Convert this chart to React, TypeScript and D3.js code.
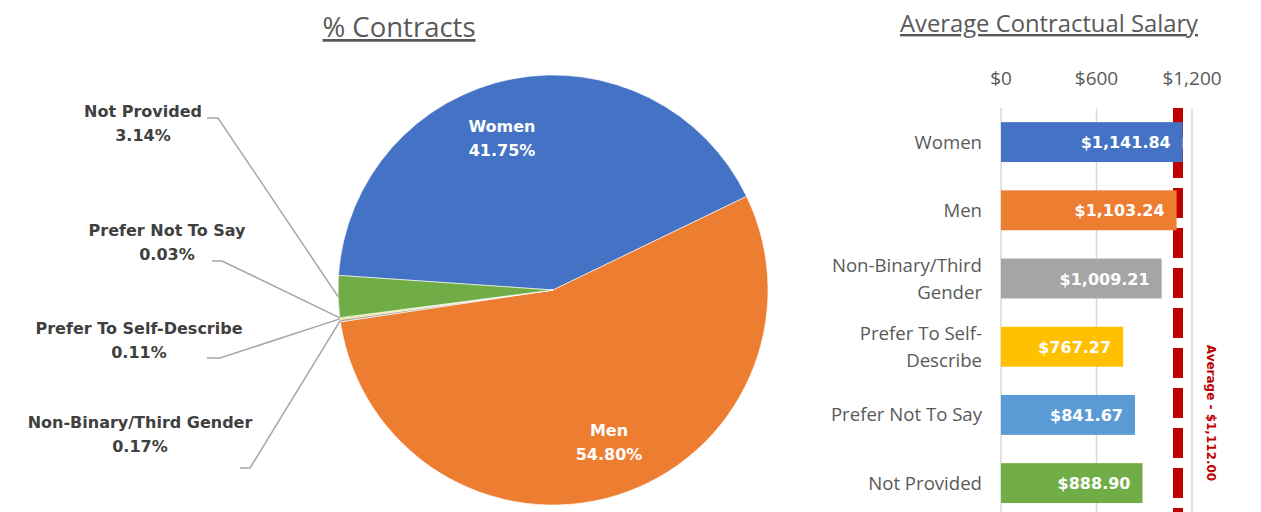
import React from "react";
import * as d3 from "d3";

const categories = ["Women", "Men", "Non-Binary/Third Gender", "Prefer To Self-Describe", "Prefer Not To Say", "Not Provided"];
const contractShare = [41.75, 54.8, 0.17, 0.11, 0.03, 3.14];
const avgSalary = [1141.84, 1103.24, 1009.21, 767.27, 841.67, 888.9];
const overallAverage = 1112.0;
const salaryTicks = [0, 600, 1200];
const colors = ["#4472C4", "#ED7D31", "#A5A5A5", "#FFC000", "#5B9BD5", "#70AD47"];
const barLabelLines = [["Women"], ["Men"], ["Non-Binary/Third", "Gender"], ["Prefer To Self-", "Describe"], ["Prefer Not To Say"], ["Not Provided"]];

const FONT = "'Open Sans', Lato, sans-serif";
const BOLD = "'DejaVu Sans', 'Open Sans', sans-serif";

const fmtMoney = (v: number) => "$" + d3.format(",.2f")(v);
const fmtTick = (v: number) => "$" + d3.format(",")(v);

export default function App() {
  const W = 1261, H = 512;
  // Pie
  const cx = 553, cy = 290, R = 215;
  const startDeg = -86.1;
  const pie = d3.pie<number>().sort(null).value((d) => d)
    .startAngle((startDeg * Math.PI) / 180)
    .endAngle(((startDeg + 360) * Math.PI) / 180);
  const arcs = pie(contractShare);
  const arcGen = d3.arc<d3.PieArcDatum<number>>().innerRadius(0).outerRadius(R);

  const outside = [
    { i: 5, x: 143, y: 117, hx: [207, 218], hy: 118 },
    { i: 4, x: 167, y: 236, hx: [212, 222], hy: 261 },
    { i: 3, x: 139, y: 334, hx: [207, 220], hy: 358 },
    { i: 2, x: 140, y: 428, hx: [240, 250], hy: 468 },
  ];

  // Bars
  const x = d3.scaleLinear().domain([0, 1200]).range([1001, 1192]);
  const y = d3.scaleBand<string>().domain(categories).range([108, 517.2]).paddingInner(0.415).paddingOuter(0.2075);

  return (
    <svg width={W} height={H} style={{ display: "block", position: "absolute", left: 0, top: 0 }} fontFamily={FONT}>
      <rect width={W} height={H} fill="#fff" />
      <text x={399} y={37} textAnchor="middle" fontSize={27.5} fill="#595959" textDecoration="underline">% Contracts</text>
      {arcs.map((a, i) => (
        <path key={i} d={arcGen(a) || ""} transform={`translate(${cx},${cy})`} fill={colors[i]} stroke="#fff" strokeWidth={0.6} />
      ))}
      {[0, 1].map((i) => {
        const pos = i === 0 ? [502, 132] : [609, 436];
        return (
          <text key={i} x={pos[0]} y={pos[1]} textAnchor="middle" fontSize={16} fontWeight={700} fill="#fff" fontFamily={BOLD}>
            <tspan x={pos[0]} dy={0}>{categories[i]}</tspan>
            <tspan x={pos[0]} dy={24}>{contractShare[i].toFixed(2)}%</tspan>
          </text>
        );
      })}
      {outside.map((o) => {
        const a = arcs[o.i];
        const mid = (a.startAngle + a.endAngle) / 2;
        const ex = cx + R * Math.sin(mid);
        const ey = cy - R * Math.cos(mid);
        return (
          <g key={o.i}>
            <polyline points={`${o.hx[0]},${o.hy} ${o.hx[1]},${o.hy} ${ex},${ey}`} fill="none" stroke="#A6A6A6" strokeWidth={1.5} />
            <text x={o.x} y={o.y} textAnchor="middle" fontSize={16} fontWeight={700} fill="#404040" fontFamily={BOLD}>
              <tspan x={o.x} dy={0}>{categories[o.i]}</tspan>
              <tspan x={o.x} dy={24}>{contractShare[o.i].toFixed(2)}%</tspan>
            </text>
          </g>
        );
      })}

      <text x={1049} y={32} textAnchor="middle" fontSize={23.8} fill="#595959" textDecoration="underline">Average Contractual Salary</text>
      {salaryTicks.map((t) => (
        <g key={t}>
          <line x1={x(t)} x2={x(t)} y1={108} y2={H} stroke="#D9D9D9" strokeWidth={1.5} />
          <text x={x(t)} y={85} textAnchor="middle" fontSize={19} fill="#595959">{fmtTick(t)}</text>
        </g>
      ))}
      <line x1={x(overallAverage)} x2={x(overallAverage)} y1={108} y2={H} stroke="#C00000" strokeWidth={10} strokeDasharray="30 10" />
      {categories.map((c, i) => {
        const by = y(c)!;
        const bh = y.bandwidth();
        const lines = barLabelLines[i];
        const lh = 27;
        const y0 = by + bh / 2 - ((lines.length - 1) * lh) / 2 + 6.5;
        return (
          <g key={c}>
            <rect x={x(0)} y={by} width={x(avgSalary[i]) - x(0)} height={bh} fill={colors[i]} />
            <text x={x(avgSalary[i]) - 12} y={by + bh / 2 + 6} textAnchor="end" fontSize={16} fontWeight={700} fill="#fff" fontFamily={BOLD}>{fmtMoney(avgSalary[i])}</text>
            <text x={982} y={y0} textAnchor="end" fontSize={18.6} fill="#595959">
              {lines.map((l, k) => (
                <tspan key={k} x={982} dy={k === 0 ? 0 : lh}>{l}</tspan>
              ))}
            </text>
          </g>
        );
      })}
      <text transform={`translate(1207,413) rotate(90)`} textAnchor="middle" fontSize={12} fontWeight={700} fill="#C00000" fontFamily={BOLD}>
        Average - {fmtMoney(overallAverage)}
      </text>
    </svg>
  );
}
